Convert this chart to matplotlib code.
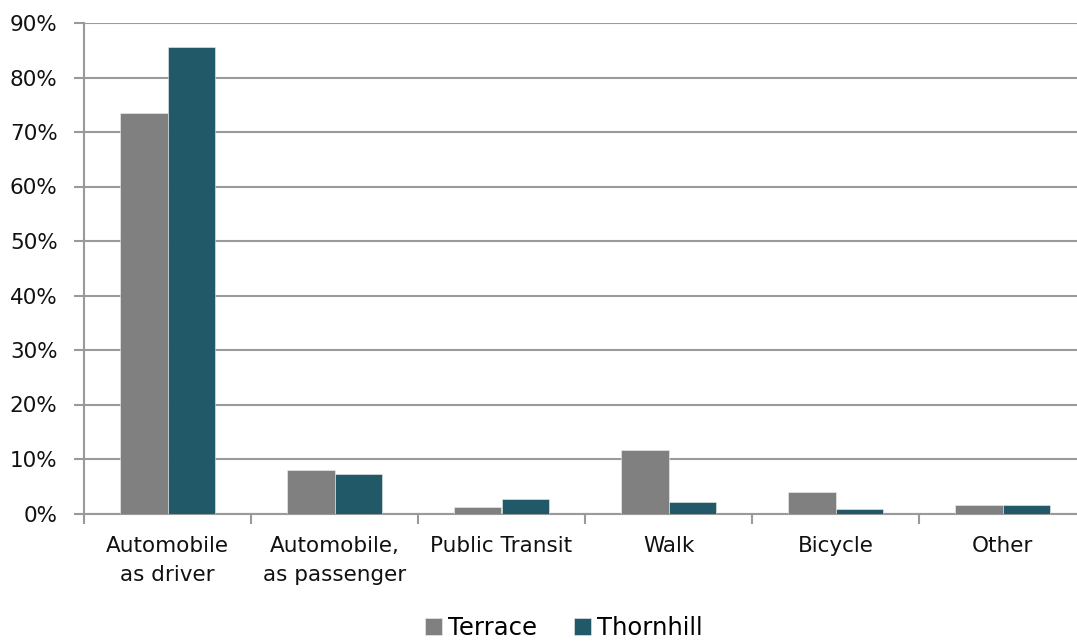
import matplotlib
matplotlib.use("Agg")
import matplotlib.pyplot as plt
import numpy as np

categories = ["Automobile\nas driver", "Automobile,\nas passenger", "Public Transit",
              "Walk", "Bicycle", "Other"]
terrace = [73.5, 8.0, 1.2, 11.6, 3.9, 1.6]
thornhill = [85.6, 7.2, 2.7, 2.1, 0.8, 1.5]
series_names = ["Terrace", "Thornhill"]
colors = ["#808080", "#215968"]
yticks = [0, 10, 20, 30, 40, 50, 60, 70, 80, 90]

plt.rcParams["font.family"] = ["DejaVu Sans"]

W, H = 1077, 643
fig = plt.figure(figsize=(W / 100, H / 100), dpi=100)
ax = fig.add_axes([84 / W, (H - 513.5) / H, 1002 / W, 490.5 / H])

x = np.arange(len(categories))
bw = 0.285
ax.bar(x - bw / 2, terrace, bw, color=colors[0], label=series_names[0],
       edgecolor="#f0f0f0", linewidth=0.4, zorder=3)
ax.bar(x + bw / 2, thornhill, bw, color=colors[1], label=series_names[1],
       edgecolor="#f0f0f0", linewidth=0.4, zorder=3)

ax.set_xlim(-0.5, len(categories) - 0.5)
ax.set_ylim(0, 90)
ax.set_yticks(yticks)
ax.set_yticklabels([f"{v}%" for v in yticks], fontsize=15.5, color="#111111")
ax.yaxis.grid(True, color="#9a9a9a", linewidth=1.5, zorder=0)
ax.set_axisbelow(True)

ax.set_xticks(np.arange(len(categories) + 1) - 0.5, minor=False)
ax.set_xticklabels([])
ax.set_xticks(x, minor=True)
ax.set_xticklabels(categories, minor=True, fontsize=15.5, color="#111111", linespacing=1.6)
ax.tick_params(axis="x", which="major", length=7, width=1.5, color="#9a9a9a")
ax.tick_params(axis="x", which="minor", length=0, pad=16)
ax.tick_params(axis="y", length=7, width=1.5, color="#9a9a9a", pad=12)

for s in ["top", "right"]:
    ax.spines[s].set_visible(False)
for s in ["left", "bottom"]:
    ax.spines[s].set_color("#9a9a9a")
    ax.spines[s].set_linewidth(1.5)

fig.legend(loc="center", bbox_to_anchor=(564 / W, 1 - 628 / H), ncol=2, frameon=False,
           fontsize=17.5, handlelength=0.7, handleheight=0.7, handletextpad=0.25,
           columnspacing=1.5, borderaxespad=0)

fig.savefig("out.png", dpi=100)
